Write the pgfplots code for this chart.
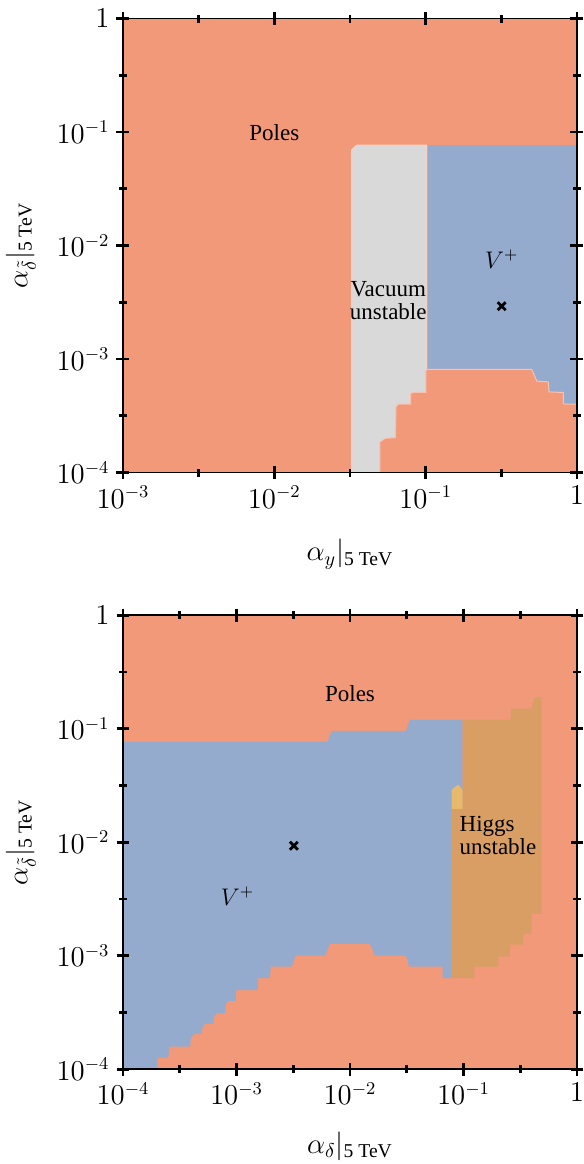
\documentclass[border=0pt]{standalone}
\usepackage{fontspec}
\setmainfont{Liberation Serif}
\usepackage{amsmath}
\usepackage{pgfplots}
\pgfplotsset{compat=1.18}

\definecolor{poles}{HTML}{F2997A}
\definecolor{vplus}{HTML}{95ABCD}
\definecolor{vac}{HTML}{D9D9D9}
\definecolor{higgs}{HTML}{D89E64}
\definecolor{blob}{HTML}{E8B96A}

\pgfplotsset{
  scale only axis, width=227pt, height=227pt,
  axis on top,
  axis line style={line width=0.9pt},
  tick align=center,
  major tick length=6.5pt, minor tick length=4pt,
  tick style={black, line width=1.3pt},
  ticklabel style={font=\fontsize{13.5}{16}\selectfont},
  label style={font=\fontsize{14}{17}\selectfont},
}
\tikzset{txt/.style={font=\fontsize{11.5}{11.5}\selectfont, inner sep=0pt}}

\begin{document}
\begin{tikzpicture}
\path[use as bounding box] (-61.5pt,-345.75pt) rectangle (230.5pt,236.25pt);

% top: alpha_y vs alpha_delta-tilde
\begin{loglogaxis}[at={(0pt,0pt)}, anchor=south west,
    xmin=1e-3, xmax=1, ymin=1e-4, ymax=1,
    xtick={1e-3,1e-2,1e-1,1},
    xticklabels={$10^{-3}$,$10^{-2}$,$10^{-1}$,$1$},
    minor xtick={3.1623e-3,3.1623e-2,0.31623},
    ytick={1e-4,1e-3,1e-2,1e-1,1},
    yticklabels={$10^{-4}$,$10^{-3}$,$10^{-2}$,$10^{-1}$,$1$},
    minor ytick={3.1623e-4,3.1623e-3,3.1623e-2,0.31623},
    xlabel={$\alpha_{y}|_{\text{5 TeV}}$},
    ylabel={$\alpha_{\tilde{\delta}}|_{\text{5 TeV}}$},
    xlabel style={at={(axis description cs:0.5,-0.18)}, anchor=center},
    ylabel style={at={(axis description cs:-0.225,0.5)}, anchor=center},
]
\addplot[fill=poles, draw=none] coordinates {(1e-3,1e-4) (1,1e-4) (1,1) (1e-3,1)} -- cycle;
\addplot[fill=vac, draw=poles!45!white, line width=0.5pt] coordinates {
  (0.0324,1e-4) (0.0324,0.0693) (0.0350,0.0767) (0.1016,0.0767) (0.1016,1e-4)} -- cycle;
\addplot[fill=vplus, draw=none] coordinates {
  (0.1030,1e-4) (0.1030,0.0767) (1,0.0767) (1,1e-4)} -- cycle;
\addplot[fill=poles, draw=poles!60!white, line width=0.5pt] coordinates {
  (0.0499,1e-4) (0.0499,1.86e-4) (0.0539,2.00e-4) (0.0630,2.03e-4) (0.0637,3.79e-4)
  (0.0659,4.00e-4) (0.0796,4.00e-4) (0.0796,4.97e-4) (0.0829,5.07e-4) (0.1005,5.07e-4)
  (0.1005,7.97e-4) (0.1041,8.09e-4) (0.502,8.09e-4) (0.534,6.74e-4) (0.542,6.38e-4)
  (0.646,6.29e-4) (0.653,5.13e-4) (0.812,5.07e-4) (0.812,4.06e-4) (0.824,4.00e-4)
  (1.05,4.00e-4) (1.05,0.9e-4)} -- cycle;
\addplot[only marks, mark=x, mark size=2.8pt, line width=1.4pt, black] coordinates {(0.318,2.92e-3)};
\node[txt] at (axis cs:0.01,0.098) {Poles};
\node[txt, align=center] at (axis cs:0.0566,3.27e-3) {Vacuum\\unstable};
\node[txt] at (axis cs:0.318,7.59e-3) {$V^{+}$};
\end{loglogaxis}

% bottom: alpha_delta vs alpha_delta-tilde
\begin{loglogaxis}[at={(0pt,-298.35pt)}, anchor=south west,
    xmin=1e-4, xmax=1, ymin=1e-4, ymax=1,
    xtick={1e-4,1e-3,1e-2,1e-1,1},
    xticklabels={$10^{-4}$,$10^{-3}$,$10^{-2}$,$10^{-1}$,$1$},
    minor xtick={3.1623e-4,3.1623e-3,3.1623e-2,0.31623},
    ytick={1e-4,1e-3,1e-2,1e-1,1},
    yticklabels={$10^{-4}$,$10^{-3}$,$10^{-2}$,$10^{-1}$,$1$},
    minor ytick={3.1623e-4,3.1623e-3,3.1623e-2,0.31623},
    xlabel={$\alpha_{\delta}|_{\text{5 TeV}}$},
    ylabel={$\alpha_{\tilde{\delta}}|_{\text{5 TeV}}$},
    xlabel style={at={(axis description cs:0.5,-0.17)}, anchor=center},
    ylabel style={at={(axis description cs:-0.225,0.5)}, anchor=center},
]
\addplot[fill=poles, draw=none] coordinates {(1e-4,1e-4) (1,1e-4) (1,1) (1e-4,1)} -- cycle;
\addplot[fill=vplus, draw=none] coordinates {
  (1e-4,0.0764) (6.31e-3,0.0764) (6.90e-3,0.0956) (0.03114,0.0956) (0.0338,0.1205)
  (0.0984,0.1205) (0.0984,0.0199) (0.0787,0.0199) (0.0787,6.357e-4) (0.0656,6.357e-4)
  (0.0656,8.0e-4) (0.0333,8.0e-4) (0.0311,1.0e-3) (0.0166,1.0e-3) (0.0150,1.269e-3)
  (0.00667,1.269e-3) (0.00602,1.0e-3) (0.00332,1.0e-3) (0.003065,8.0e-4) (0.002001,8.0e-4)
  (0.001973,6.357e-4) (0.001556,6.357e-4) (0.001537,4.981e-4) (9.958e-4,4.981e-4)
  (9.84e-4,4.007e-4) (8.468e-4,4.007e-4) (8.03e-4,3.749e-4) (7.918e-4,3.121e-4)
  (6.691e-4,3.121e-4) (6.372e-4,2.912e-4) (6.245e-4,2.526e-4) (5.277e-4,2.526e-4)
  (4.996e-4,2.301e-4) (4.935e-4,2.037e-4) (4.223e-4,2.037e-4) (3.974e-4,1.878e-4)
  (3.894e-4,1.583e-4) (2.557e-4,1.583e-4) (2.506e-4,1.266e-4) (2.021e-4,1.266e-4)
  (1.981e-4,1e-4) (1e-4,1e-4)} -- cycle;
\addplot[fill=higgs, draw=none] coordinates {
  (0.0984,0.1205) (0.2605,0.1205) (0.2605,0.1507) (0.3991,0.1507) (0.4181,0.1884)
  (0.4887,0.1884) (0.4887,2.335e-3) (0.3991,2.335e-3) (0.3991,1.555e-3) (0.3364,1.555e-3)
  (0.3364,1.251e-3) (0.2568,1.251e-3) (0.2568,9.8e-4) (0.2026,9.8e-4) (0.2026,8.0e-4)
  (0.1245,8.0e-4) (0.1245,6.357e-4) (0.0787,6.357e-4) (0.0787,0.0199) (0.0984,0.0199)} -- cycle;
\addplot[fill=blob, draw=none] coordinates {
  (0.0803,0.0296) (0.0900,0.0322) (0.0984,0.0286) (0.0984,0.0197) (0.0787,0.0197) (0.0787,0.0286)} -- cycle;
\addplot[only marks, mark=x, mark size=2.8pt, line width=1.4pt, black] coordinates {(3.2e-3,9.3e-3)};
\node[txt] at (axis cs:0.01,0.204) {Poles};
\node[txt, align=left, anchor=west] at (axis cs:0.0918,0.0114) {Higgs\\unstable};
\node[txt] at (axis cs:1.02e-3,3.36e-3) {$V^{+}$};
\end{loglogaxis}
\end{tikzpicture}
\end{document}
